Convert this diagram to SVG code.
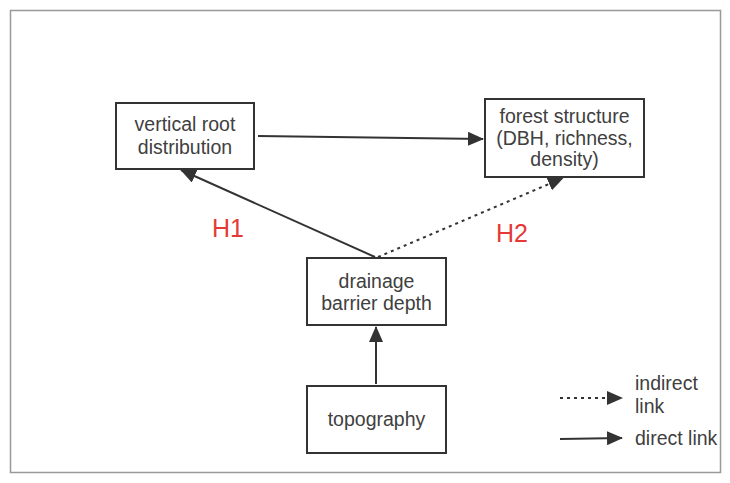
<svg xmlns="http://www.w3.org/2000/svg" width="730" height="483" viewBox="0 0 730 483">
<style>
.node{fill:#fff;stroke:#333;stroke-width:2}
.t{font-family:"Liberation Sans",Arial,sans-serif;font-size:19.5px;fill:#404040;text-anchor:middle}
.lg{font-family:"Liberation Sans",Arial,sans-serif;font-size:19.5px;fill:#404040}
.h{font-family:"Liberation Sans",Arial,sans-serif;font-size:25px;fill:#e53935}
.c{stroke:#333;stroke-width:2;fill:none}
.d{stroke-dasharray:3 4}
</style>
<defs>
<marker id="ah" viewBox="0 0 16 14" refX="15" refY="7" markerWidth="16" markerHeight="14" markerUnits="userSpaceOnUse" orient="auto">
<path d="M0,0 L16,7 L0,14 Z" fill="#333"/>
</marker>
</defs>
<rect x="0" y="0" width="730" height="483" fill="#fff"/>
<rect x="10.5" y="10.5" width="710" height="462" fill="none" stroke="#999" stroke-width="1.5"/>
<g id="connectors">
<line class="c" x1="258" y1="136" x2="483" y2="139" marker-end="url(#ah)"/>
<line class="c" x1="375" y1="257" x2="181" y2="170" marker-end="url(#ah)"/>
<line class="c d" x1="378" y1="257" x2="563" y2="178" marker-end="url(#ah)"/>
<line class="c" x1="376" y1="384" x2="376" y2="327" marker-end="url(#ah)"/>
</g>
<g id="vertical-root">
<rect class="node" x="116" y="103" width="138" height="66"/>
<text class="t" x="185" y="131">vertical root</text>
<text class="t" x="185" y="153.5">distribution</text>
</g>
<g id="forest-structure">
<rect class="node" x="485" y="99" width="159" height="78"/>
<text class="t" x="564.5" y="122.5">forest structure</text>
<text class="t" x="564.5" y="144.5">(DBH, richness,</text>
<text class="t" x="564.5" y="166">density)</text>
</g>
<g id="drainage">
<rect class="node" x="307" y="258" width="139" height="67"/>
<text class="t" x="376.5" y="287.5">drainage</text>
<text class="t" x="376.5" y="309.5">barrier depth</text>
</g>
<g id="topography">
<rect class="node" x="307" y="386" width="139" height="67"/>
<text class="t" x="376.5" y="426">topography</text>
</g>
<g id="labels">
<text class="h" x="212" y="237">H1</text>
<text class="h" x="496" y="242">H2</text>
</g>
<g id="legend">
<line class="c d" x1="560" y1="398" x2="622" y2="398" marker-end="url(#ah)"/>
<line class="c" x1="560" y1="439" x2="622" y2="438" marker-end="url(#ah)"/>
<text class="lg" x="635" y="389.5">indirect</text>
<text class="lg" x="635" y="412.5">link</text>
<text class="lg" x="635" y="445">direct link</text>
</g>
</svg>
